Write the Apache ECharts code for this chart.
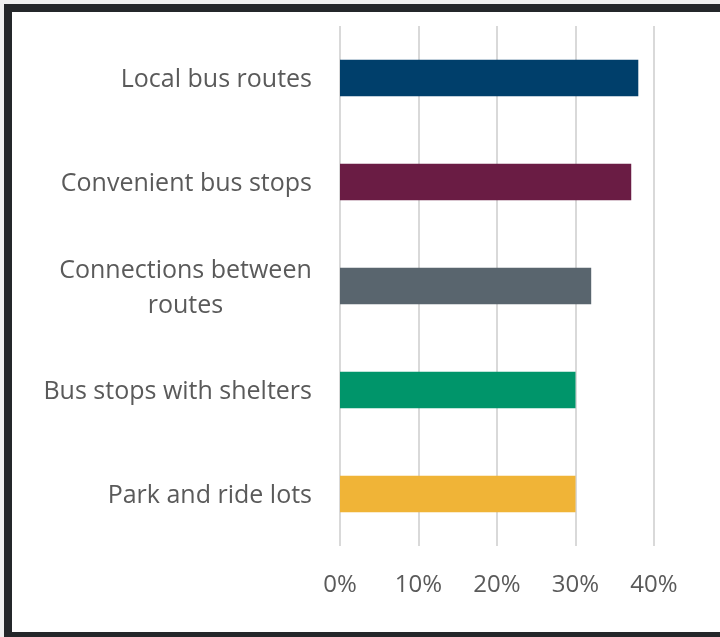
<!DOCTYPE html>
<html>
<head>
<meta charset="utf-8">
<script src="https://cdn.jsdelivr.net/npm/echarts@6/dist/echarts.min.js"></script>
<style>
  html, body { margin: 0; padding: 0; width: 720px; height: 637px; overflow: hidden; background: #f0f0f0; }
  #frame { position: absolute; left: 4px; top: 4px; width: 760px; height: 620px; border: 8px solid #24272a; background: #ffffff; }
  #chart { position: absolute; left: 0; top: 0; width: 720px; height: 637px; }
</style>
</head>
<body>
<div id="frame"></div>
<div id="chart"></div>
<script>
const categories = ['Local bus routes', 'Convenient bus stops', 'Connections between\nroutes', 'Bus stops with shelters', 'Park and ride lots'];
const values = [0.38, 0.371, 0.32, 0.30, 0.30];
const colors = ['#003f6b', '#6a1c44', '#59656e', '#00956a', '#f0b437'];
const tickLabels = ['0%', '10%', '20%', '30%', '40%'];

const font = '"Open Sans", sans-serif';
const catSize = 25;
const cv = document.createElement('canvas').getContext('2d');
cv.font = catSize + 'px "Open Sans"';
function blockWidth(v) {
  return Math.ceil(Math.max.apply(null, v.split('\n').map(s => cv.measureText(s).width)));
}

const chart = echarts.init(document.getElementById('chart'), null, { renderer: 'canvas' });
const rich = {};
categories.forEach((c, i) => {
  if (c.indexOf('\n') >= 0) {
    rich['c' + i] = { width: blockWidth(c), align: 'center', color: '#5a5a5a', fontFamily: font, fontSize: catSize, lineHeight: 35 };
  }
});
chart.setOption({
  backgroundColor: 'transparent',
  animation: false,
  grid: { left: 340, right: 66, top: 26, bottom: 91, containLabel: false },
  xAxis: {
    type: 'value', min: 0, max: 0.4, interval: 0.1,
    axisLine: { show: false }, axisTick: { show: false },
    splitLine: { show: true, lineStyle: { color: '#d9d9d9', width: 2 } },
    axisLabel: {
      margin: 27, color: '#5a5a5a', fontFamily: font, fontSize: 24,
      formatter: (v) => tickLabels[Math.round(v * 10)]
    }
  },
  yAxis: {
    type: 'category', inverse: true, data: categories,
    axisLine: { show: false }, axisTick: { show: false },
    axisLabel: {
      margin: 28, color: '#5a5a5a', fontFamily: font, fontSize: catSize, lineHeight: 35,
      padding: [4, 0, 0, 0],
      formatter: (v, idx) => v.indexOf('\n') >= 0 ? v.split('\n').map(s => '{c' + idx + '|' + s + '}').join('\n') : v,
      rich: rich
    }
  },
  series: [{
    type: 'bar', barCategoryGap: '65%',
    data: values.map((v, i) => ({ value: v, itemStyle: { color: colors[i] } }))
  }]
});
</script>
</body>
</html>
